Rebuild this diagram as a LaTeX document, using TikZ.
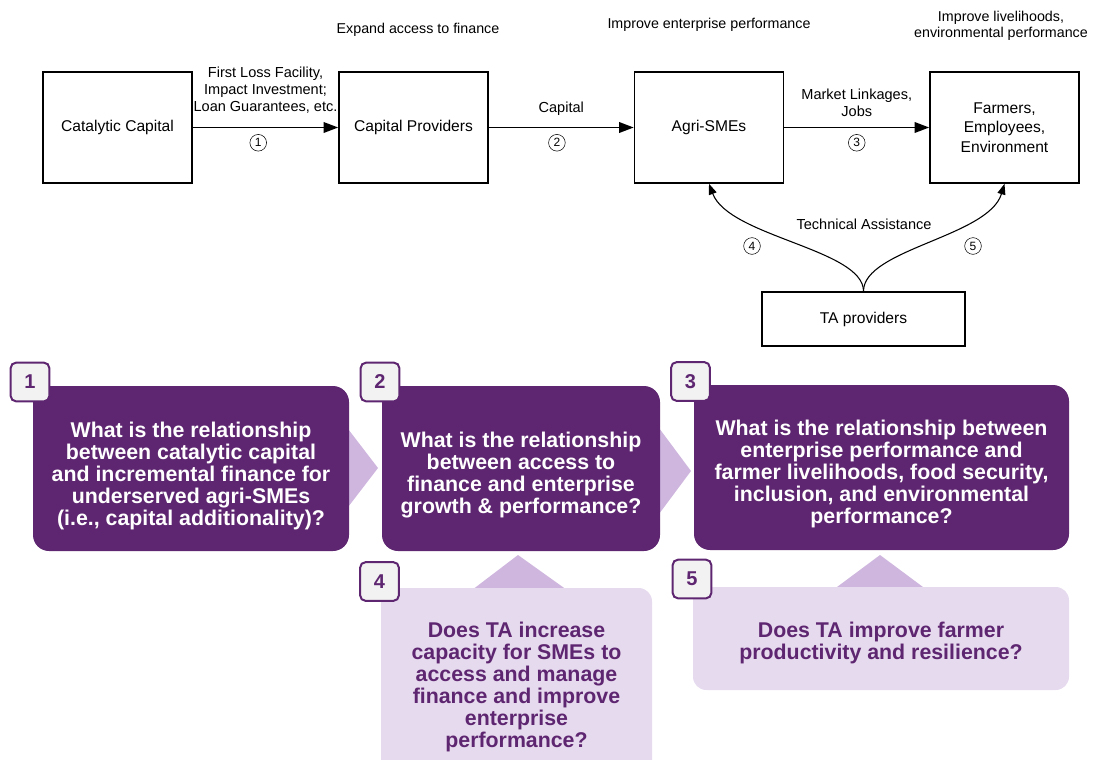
\documentclass[tikz,border=0pt]{standalone}
\usepackage{fontspec}
\setmainfont{Liberation Sans}
\usetikzlibrary{arrows.meta,positioning}
\definecolor{plum}{HTML}{5E2670}
\definecolor{lilac}{HTML}{CEB6DE}
\definecolor{mist}{HTML}{E6DAEE}
\definecolor{badgegray}{HTML}{F2F2F2}

\begin{document}
\begin{tikzpicture}[x=0.75pt,y=-0.75pt,
    stage/.style={draw,line width=1.2pt,minimum width=111.75pt,minimum height=83.25pt,align=center,font=\fontsize{11.7}{14.6}\selectfont},
    flow/.style={line width=1.2pt,-{Triangle[length=11pt,width=8pt]}},
    assist/.style={line width=0.8pt,-{Triangle[length=8pt,width=6pt]}},
    lbl/.style={align=center,font=\fontsize{10.9}{12.6}\selectfont},
    num/.style={circle,draw,thin,inner sep=0pt,minimum size=12.5pt,font=\fontsize{9}{9}\selectfont},
    head/.style={align=center,font=\fontsize{10.7}{12}\selectfont},
    question/.style={fill=plum,rounded corners=12pt,minimum height=123.75pt},
    followup/.style={fill=mist,rounded corners=10pt},
    qtext/.style={text=white,align=center,font=\bfseries\fontsize{16}{16.5}\selectfont},
    ftext/.style={text=plum,align=center,font=\bfseries\fontsize{16}{16.5}\selectfont},
    badge/.style={draw=plum,line width=1.5pt,fill=badgegray,rounded corners=4pt,minimum size=29pt,inner sep=0pt,text=plum,font=\bfseries\fontsize{15}{15}\selectfont}]
  \useasboundingbox (0,0) rectangle (1093,760);
  \clip (0,0) rectangle (1093,760);

  % headings
  \node[head] (hfin) at (418,30) {Expand access to finance};
  \node[head] (hent) at (709,25) {Improve enterprise performance};
  \node[head] (hliv) at (1001,26) {Improve livelihoods,\\environmental performance};

  % theory of change
  \node[stage] (cat) at (117.5,127.5) {Catalytic Capital};
  \node[stage] (cap) at (413.5,127.5) {Capital Providers};
  \node[stage] (agri) at (709,127.5) {Agri-SMEs};
  \node[stage] (farm) at (1004.5,127.5) {Farmers,\\Employees,\\Environment};
  \node[draw,line width=1.2pt,minimum width=152.25pt,minimum height=40.5pt,font=\fontsize{11.7}{14.6}\selectfont] (ta) at (863.5,319) {TA providers};

  \draw[flow] (cat) -- node[lbl,above=7pt] {First Loss Facility,\\Impact Investment;\\Loan Guarantees, etc.} node[num,pos=0.45,below=5pt] {1} (cap);
  \draw[flow] (cap) -- node[lbl,above=5pt] {Capital} node[num,pos=0.47,below=5pt] {2} (agri);
  \draw[flow] (agri) -- node[lbl,above=4.5pt] {Market Linkages,\\Jobs} node[num,pos=0.5,below=5pt] {3} (farm);

  \draw[assist] (ta.north) .. controls +(0,-42) and +(20,53) .. (agri.south);
  \draw[assist] (ta.north) .. controls +(0,-42) and +(-16,53) .. (farm.south);
  \node[lbl] (tech) at (864,224) {Technical Assistance};
  \node[num] (n4) at (752,246) {4};
  \node[num] (n5) at (973,246) {5};

  % chevrons
  \fill[lilac] (345,425) -- (378,468) -- (345,511) -- cycle;
  \fill[lilac] (656,424) -- (691,471) -- (656,518) -- cycle;
  \fill[lilac] (472,590) -- (518,555) -- (567,590) -- cycle;
  \fill[lilac] (833,590) -- (880,555) -- (927,590) -- cycle;

  % research questions
  \node[question,minimum width=237pt] (q1) at (191,468.5) {};
  \node[question,minimum width=208.5pt] (q2) at (521,468.5) {};
  \node[question,minimum width=281.25pt] (q3) at (881.5,467.5) {};
  \node[followup,minimum width=203.25pt,minimum height=147pt] (q4) at (516.5,686) {};
  \node[followup,minimum width=282pt,minimum height=77.25pt] (q5) at (881,638.5) {};

  \node[qtext] (q1t) at ([yshift=-5.5pt]q1.center) {What is the relationship\\between catalytic capital\\and incremental finance for\\underserved agri-SMEs\\(i.e., capital additionality)?};
  \node[qtext] (q2t) at ([yshift=-5pt]q2.center) {What is the relationship\\between access to\\finance and enterprise\\growth \& performance?};
  \node[qtext] (q3t) at ([yshift=-5pt]q3.center) {What is the relationship between\\enterprise performance and\\farmer livelihoods, food security,\\inclusion, and environmental\\performance?};
  \node[ftext] (q4t) at ([yshift=-1pt]q4.center) {Does TA increase\\capacity for SMEs to\\access and manage\\finance and improve\\enterprise\\performance?};
  \node[ftext] (q5t) at ([yshift=-3.5pt]q5.center) {Does TA improve farmer\\productivity and resilience?};

  \node[badge] (b1) at (30,382) {1};
  \node[badge] (b2) at (380,382) {2};
  \node[badge] (b3) at (690.5,381.5) {3};
  \node[badge] (b4) at (379.5,581.5) {4};
  \node[badge] (b5) at (692,579) {5};
\end{tikzpicture}
\end{document}
